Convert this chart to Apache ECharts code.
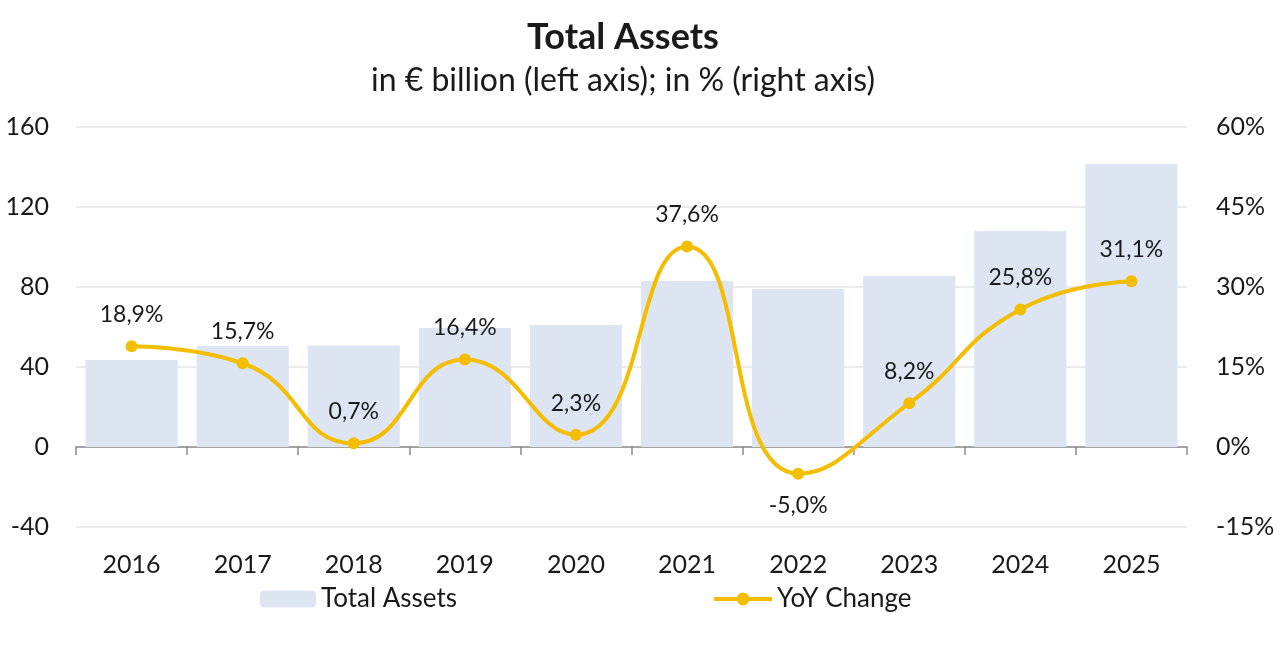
<!DOCTYPE html>
<html><head><meta charset="utf-8">
<script src="https://cdn.jsdelivr.net/npm/echarts@6/dist/echarts.min.js"></script>
<style>html,body{margin:0;padding:0;background:#fff}#c{width:1280px;height:648px}</style>
</head><body><div id="c"></div>
<script>
const years = ['2016','2017','2018','2019','2020','2021','2022','2023','2024','2025'];
const totalAssets = [43.5, 50.5, 50.8, 59.5, 61, 83, 79, 85.5, 108, 141.5];
const yoyChange = [18.9, 15.7, 0.7, 16.4, 2.3, 37.6, -5.0, 8.2, 25.8, 31.1];
const leftTicks = {min: -40, max: 160, interval: 40};
const rightTicks = {min: -15, max: 60, interval: 15};

const FONT = 'Lato, "Noto Sans", sans-serif';
const TXT = '#1a1a1a';
const chart = echarts.init(document.getElementById('c'));
chart.setOption({
  backgroundColor: '#fff',
  textStyle: {fontFamily: FONT, color: TXT},
  title: [
    {text: 'Total Assets', left: 618, top: 14, textAlign: 'center',
     textStyle: {fontFamily: FONT, fontSize: 36, fontWeight: 'bold', color: TXT}},
    {text: 'in € billion (left axis); in % (right axis)', left: 618, top: 60, textAlign: 'center',
     textStyle: {fontFamily: FONT, fontSize: 32, fontWeight: 'normal', color: TXT}}
  ],
  legend: [
    {data: ['Total Assets'], left: 255, top: 581, itemWidth: 56, itemHeight: 17, itemGap: 6,
     textStyle: {fontFamily: FONT, fontSize: 26, color: TXT}},
    {data: ['YoY Change'], left: 707, top: 581, itemWidth: 58, itemHeight: 16, itemGap: 6,
     lineStyle: {width: 4},
     textStyle: {fontFamily: FONT, fontSize: 26, color: TXT}}
  ],
  grid: {left: 76, right: 93, top: 127, bottom: 121},
  xAxis: [
    {type: 'category', data: years, position: 'bottom',
     axisLine: {show: false}, axisTick: {show: false},
     axisLabel: {fontFamily: FONT, fontSize: 25, color: TXT, margin: 25}},
    {type: 'category', data: years, position: 'bottom',
     axisLine: {show: true, onZero: true, lineStyle: {color: '#8c8c8c', width: 1.5}},
     axisTick: {show: true, length: 8, lineStyle: {color: '#8c8c8c', width: 1.5}},
     axisLabel: {show: false}}
  ],
  yAxis: [
    {type: 'value', min: leftTicks.min, max: leftTicks.max, interval: leftTicks.interval,
     axisLine: {show: false}, axisTick: {show: false},
     axisLabel: {fontFamily: FONT, fontSize: 25, color: TXT, margin: 27},
     splitLine: {lineStyle: {color: '#e4e4e4', width: 1.5}}},
    {type: 'value', min: rightTicks.min, max: rightTicks.max, interval: rightTicks.interval,
     position: 'right',
     axisLine: {show: false}, axisTick: {show: false},
     axisLabel: {fontFamily: FONT, fontSize: 25, color: TXT, margin: 29, formatter: '{value}%'},
     splitLine: {show: false}}
  ],
  series: [
    {name: 'Total Assets', type: 'bar', data: totalAssets, xAxisIndex: 0, yAxisIndex: 0,
     barCategoryGap: '17%', itemStyle: {color: '#dde5f3'}, z: 1},
    {name: 'YoY Change', type: 'line', data: yoyChange.map(v => ({
        value: v,
        label: {position: v < 0 ? 'bottom' : 'top'}
     })), xAxisIndex: 0, yAxisIndex: 1,
     smooth: 0.5, symbol: 'circle', symbolSize: 12,
     lineStyle: {color: '#f5bd00', width: 4}, itemStyle: {color: '#f5bd00'},
     label: {show: true, distance: 14, fontFamily: FONT, fontSize: 23, color: TXT,
       formatter: p => p.value.toFixed(1).replace('.', ',') + '%'},
     z: 3}
  ]
});
</script></body></html>
